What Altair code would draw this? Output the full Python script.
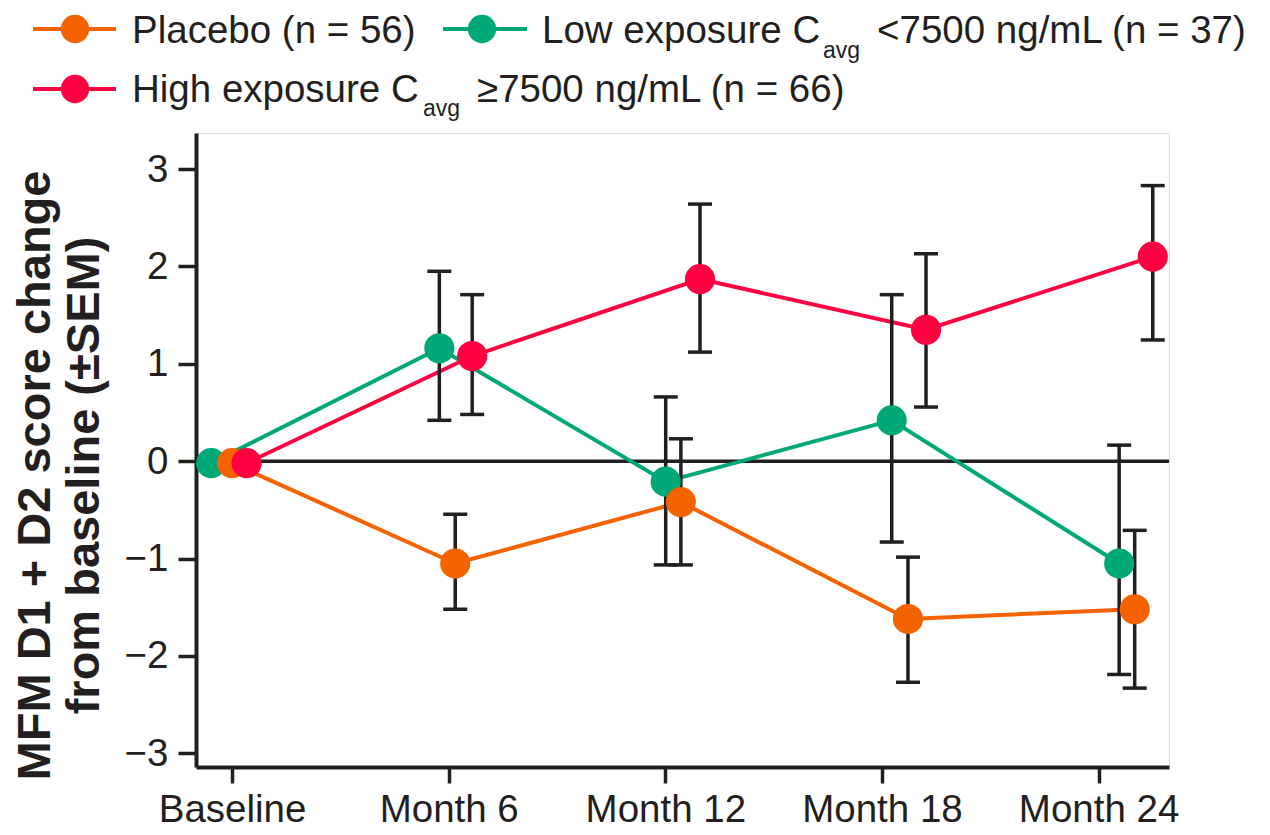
import altair as alt
import pandas as pd

# ---------------- data ----------------
series = ["Low exposure", "Placebo", "High exposure"]          # drawing order
colors = ["#00A878", "#F56200", "#FF0040"]

visit_labels = ["Baseline", "Month 6", "Month 12", "Month 18", "Month 24"]
visit_months = [0, 6, 12, 18, 24]

# plotted time (months) of each point (groups are dodged)
placebo_t = [0.0, 6.18, 12.43, 18.72, 25.0]
low_t = [-0.58, 5.74, 12.01, 18.27, 24.57]
high_t = [0.40, 6.65, 12.96, 19.22, 25.50]

placebo_mean = [-0.02, -1.05, -0.42, -1.62, -1.52]
low_mean = [-0.02, 1.16, -0.21, 0.42, -1.05]
high_mean = [-0.02, 1.08, 1.87, 1.35, 2.10]

# mean - SEM / mean + SEM
placebo_lo = [None, -1.52, -1.065, -2.27, -2.33]
placebo_hi = [None, -0.545, 0.23, -0.985, -0.71]
low_lo = [None, 0.42, -1.065, -0.83, -2.19]
low_hi = [None, 1.95, 0.66, 1.71, 0.165]
high_lo = [None, 0.48, 1.12, 0.556, 1.245]
high_hi = [None, 1.71, 2.64, 2.13, 2.83]

legend_main = {"Placebo": "Placebo (n = 56)",
               "Low exposure": "Low exposure C",
               "High exposure": "High exposure C"}
legend_sub = {"Placebo": "", "Low exposure": "avg", "High exposure": "avg"}
legend_tail = {"Placebo": "",
               "Low exposure": "<7500 ng/mL (n = 37)",
               "High exposure": "\u22657500 ng/mL (n = 66)"}

y_title = ["MFM D1 + D2 score change", "from baseline (\u00b1SEM)"]

# ---------------- tables ----------------
src = {
    "Low exposure": (low_t, low_mean, low_lo, low_hi),
    "Placebo": (placebo_t, placebo_mean, placebo_lo, placebo_hi),
    "High exposure": (high_t, high_mean, high_lo, high_hi),
}
rows = []
for s in series:
    t, m, lo, hi = src[s]
    for i, v in enumerate(visit_labels):
        rows.append({"series": s, "visit": v, "t": t[i], "mean": m[i],
                     "lo": lo[i], "hi": hi[i]})
df = pd.DataFrame(rows)
legend_df = pd.DataFrame({"series": series,
                          "main": [legend_main[s] for s in series],
                          "sub": [legend_sub[s] for s in series],
                          "tail": [legend_tail[s] for s in series]})

# ---------------- styles ----------------
FONT = "Liberation Sans"
INK = "#231F20"
color_of = dict(zip(series, colors))

label_expr = " : ".join(
    f"datum.value == {m} ? '{l}'" for m, l in zip(visit_months, visit_labels)
) + " : ''"

x_enc = alt.X("t:Q",
              scale=alt.Scale(domain=[-1.0, 25.95], nice=False, zero=False),
              axis=alt.Axis(values=visit_months, labelExpr=label_expr, title=None,
                            grid=False, domainColor=INK, domainWidth=4,
                            tickColor=INK, tickWidth=3.5, tickSize=16,
                            labelFontSize=38.5, labelPadding=8, labelColor=INK,
                            labelFont=FONT, labelFlush=False, labelOverlap=False))
y_scale = alt.Scale(domain=[-3.14, 3.37], nice=False, zero=False)
y_axis = alt.Axis(values=list(range(-3, 4)), format="d", grid=False,
                  domainColor=INK, domainWidth=4, tickColor=INK, tickWidth=3.5,
                  tickSize=18, labelFontSize=38.5, labelPadding=10,
                  labelColor=INK, labelFont=FONT, labelOverlap=False,
                  title=y_title, titleFont=FONT, titleFontSize=47,
                  titleFontWeight="bold", titleColor=INK, titleAngle=270,
                  titleAlign="center", titleBaseline="alphabetic",
                  titleLineHeight=49, titleX=-147, titleY=342)
color_enc = alt.Color("series:N", scale=alt.Scale(domain=series, range=colors),
                      legend=None)

base = alt.Chart(df)

zero_rule = alt.Chart(pd.DataFrame({"zero": [0]})).mark_rule(
    color=INK, strokeWidth=3.5).encode(y=alt.Y("zero:Q", scale=y_scale, axis=y_axis))

lines = base.mark_line(strokeWidth=4).encode(
    x=x_enc, y=alt.Y("mean:Q", scale=y_scale, axis=y_axis), color=color_enc,
    order="t:Q")

valid = base.transform_filter("isValid(datum.lo) && isFinite(datum.lo)")
err_rule = valid.mark_rule(color=INK, strokeWidth=3.5).encode(
    x=x_enc, y=alt.Y("lo:Q", scale=y_scale), y2="hi:Q")
err_caps = valid.transform_fold(["lo", "hi"], as_=["end", "val"]).mark_tick(
    color=INK, orient="horizontal", size=24, thickness=3.5, opacity=1).encode(
    x=x_enc, y=alt.Y("val:Q", scale=y_scale))

points = base.mark_circle(size=908, opacity=1).encode(
    x=x_enc, y=alt.Y("mean:Q", scale=y_scale), color=color_enc)

# ---------------- hand-built legend (labels carry a subscript) ----------------
# positions relative to the plot origin, in pixels (layout only)
legend_layout = {
    "Placebo": dict(x0=-163, x1=-80, cx=-121, cy=-104, tx=-64, ty=-90,
                    sx=0, sy=0, ax=0),
    "Low exposure": dict(x0=247, x1=331, cx=286, cy=-104, tx=346, ty=-90,
                         sx=627, sy=-75, ax=681),
    "High exposure": dict(x0=-163, x1=-80, cx=-121, cy=-44, tx=-64, ty=-31,
                          sx=227, sy=-17, ax=281),
}
legend_layers = []
for s in series:
    L = legend_layout[s]
    one = alt.Chart(legend_df).transform_filter(alt.datum.series == s)
    legend_layers.append(one.mark_rule(strokeWidth=4, color=color_of[s]).encode(
        x=alt.value(L["x0"]), x2=alt.value(L["x1"]), y=alt.value(L["cy"])))
    legend_layers.append(one.mark_circle(size=804, opacity=1, color=color_of[s]).encode(
        x=alt.value(L["cx"]), y=alt.value(L["cy"])))
    legend_layers.append(one.mark_text(font=FONT, fontSize=38.5, color=INK,
                                       align="left", baseline="alphabetic").encode(
        x=alt.value(L["tx"]), y=alt.value(L["ty"]), text="main:N"))
    if legend_sub[s]:
        legend_layers.append(one.mark_text(font=FONT, fontSize=23, color=INK,
                                           align="left", baseline="alphabetic").encode(
            x=alt.value(L["sx"]), y=alt.value(L["sy"]), text="sub:N"))
        legend_layers.append(one.mark_text(font=FONT, fontSize=38.5, color=INK,
                                           align="left", baseline="alphabetic").encode(
            x=alt.value(L["ax"]), y=alt.value(L["ty"]), text="tail:N"))

chart = alt.layer(zero_rule, lines, err_rule, err_caps, points, *legend_layers).properties(
    width=973, height=634,
    autosize=alt.AutoSizeParams(type="none"),
    padding={"left": 188, "top": 125, "right": 90, "bottom": 68},
).configure_view(stroke=None).configure(background="white")

chart.save("out.html", embed_options={"renderer": "svg", "actions": False})
